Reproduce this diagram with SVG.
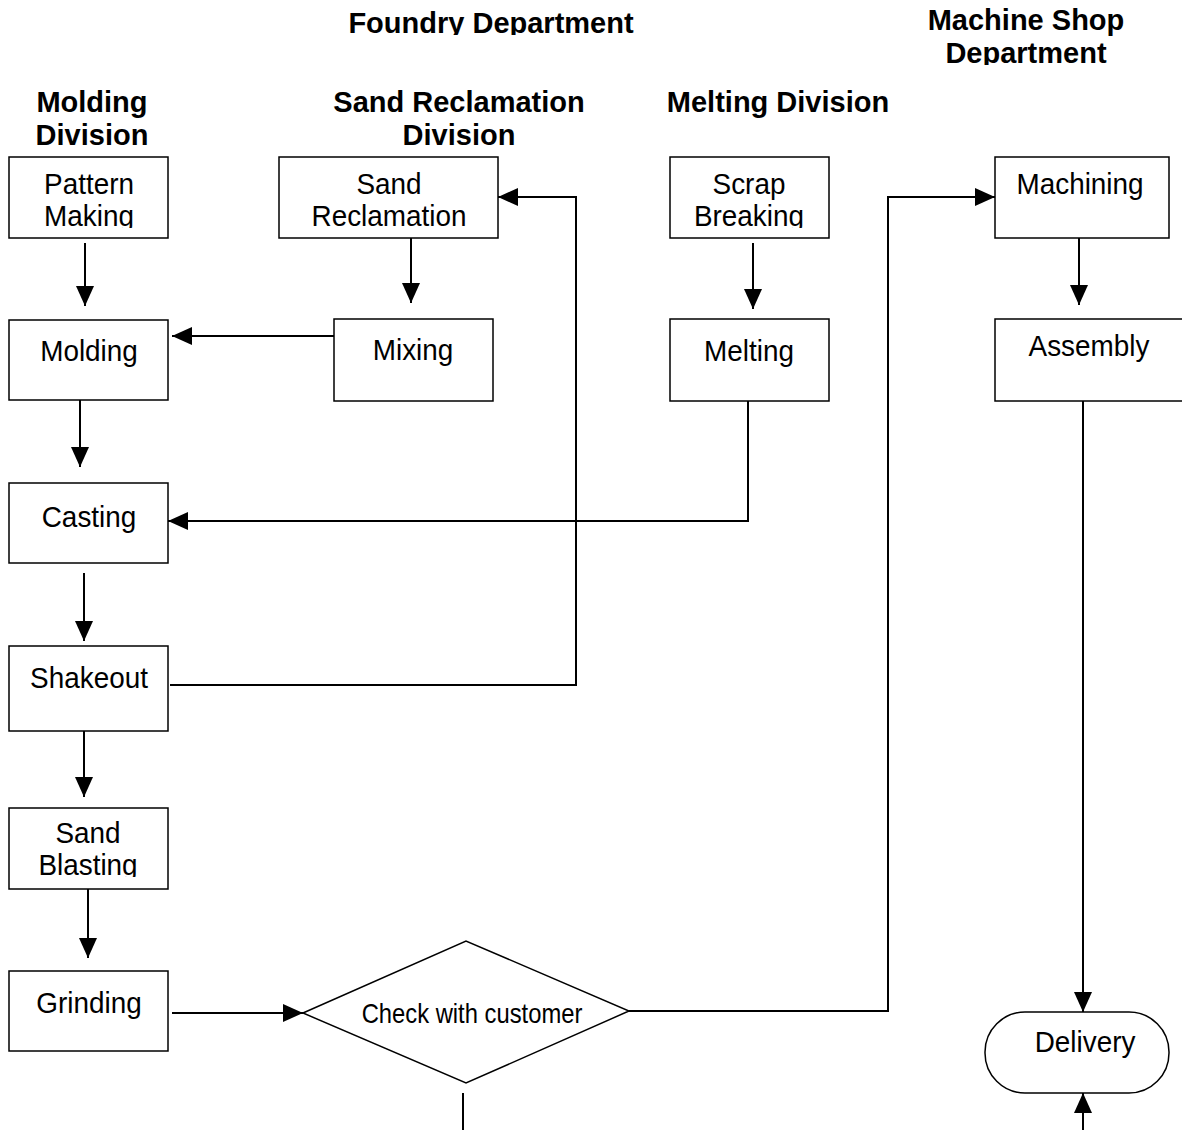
<svg xmlns="http://www.w3.org/2000/svg" width="1182" height="1130" viewBox="0 0 1182 1130">
<defs>
<style>
.box{fill:#fff;stroke:#000;stroke-width:1.5}
.t{font-family:"Liberation Sans",Arial,sans-serif;font-size:30px;text-anchor:middle;fill:#000}
.h{font-family:"Liberation Sans",Arial,sans-serif;font-size:29px;font-weight:bold;text-anchor:middle;fill:#000}
.c{fill:none;stroke:#000;stroke-width:2}
</style>
<marker id="ah" markerWidth="20" markerHeight="18" refX="20" refY="9" orient="auto" markerUnits="userSpaceOnUse"><path d="M0,0 L20,9 L0,18 z" fill="#000"/></marker>
<clipPath id="cFoundry"><rect x="300" y="0" width="400" height="35"/></clipPath>
<clipPath id="cDept"><rect x="900" y="35" width="250" height="30"/></clipPath>
<clipPath id="cLine2"><rect x="-150" y="-30" width="300" height="32"/></clipPath>
</defs>
<rect width="1182" height="1130" fill="#fff"/>

<g id="titles">
<text class="h" x="491" y="33" clip-path="url(#cFoundry)">Foundry Department</text>
<text class="h" x="1026" y="30">Machine Shop</text>
<text class="h" x="1026" y="63" clip-path="url(#cDept)">Department</text>
<text class="h" x="92" y="112">Molding</text>
<text class="h" x="92" y="145">Division</text>
<text class="h" x="459" y="112">Sand Reclamation</text>
<text class="h" x="459" y="145">Division</text>
<text class="h" x="778" y="112">Melting Division</text>
</g>

<g id="connectors">
<path class="c" d="M85,243 V306" marker-end="url(#ah)"/>
<path class="c" d="M411,238 V303" marker-end="url(#ah)"/>
<path class="c" d="M753,243 V309" marker-end="url(#ah)"/>
<path class="c" d="M1079,238 V305" marker-end="url(#ah)"/>
<path class="c" d="M334,336 H172" marker-end="url(#ah)"/>
<path class="c" d="M80,400 V467" marker-end="url(#ah)"/>
<path class="c" d="M748,401 V521 H168" marker-end="url(#ah)"/>
<path class="c" d="M84,573 V641" marker-end="url(#ah)"/>
<path class="c" d="M170,685 H576 V197 H498" marker-end="url(#ah)"/>
<path class="c" d="M84,731 V797" marker-end="url(#ah)"/>
<path class="c" d="M88,889 V958" marker-end="url(#ah)"/>
<path class="c" d="M172,1013 H303" marker-end="url(#ah)"/>
<path class="c" d="M629,1011 H888 V197 H995" marker-end="url(#ah)"/>
<path class="c" d="M1083,401 V1012" marker-end="url(#ah)"/>
<path class="c" d="M463,1093 V1130"/>
<path class="c" d="M1083,1130 V1093" marker-end="url(#ah)"/>
</g>

<g id="pattern-making">
<rect class="box" x="9" y="157" width="159" height="81"/>
<text class="t" transform="translate(89 194) scale(0.93 1)">Pattern</text>
<text class="t" transform="translate(89 226) scale(0.93 1)" clip-path="url(#cLine2)">Making</text>
</g>
<g id="sand-reclamation">
<rect class="box" x="279" y="157" width="219" height="81"/>
<text class="t" transform="translate(389 194) scale(0.93 1)">Sand</text>
<text class="t" transform="translate(389 226) scale(0.93 1)">Reclamation</text>
</g>
<g id="scrap-breaking">
<rect class="box" x="670" y="157" width="159" height="81"/>
<text class="t" transform="translate(749 194) scale(0.93 1)">Scrap</text>
<text class="t" transform="translate(749 226) scale(0.93 1)" clip-path="url(#cLine2)">Breaking</text>
</g>
<g id="machining">
<rect class="box" x="995" y="157" width="174" height="81"/>
<text class="t" transform="translate(1080 194) scale(0.93 1)">Machining</text>
</g>
<g id="molding">
<rect class="box" x="9" y="320" width="159" height="80"/>
<text class="t" transform="translate(89 361) scale(0.93 1)">Molding</text>
</g>
<g id="mixing">
<rect class="box" x="334" y="319" width="159" height="82"/>
<text class="t" transform="translate(413 360) scale(0.93 1)">Mixing</text>
</g>
<g id="melting">
<rect class="box" x="670" y="319" width="159" height="82"/>
<text class="t" transform="translate(749 361) scale(0.93 1)">Melting</text>
</g>
<g id="assembly">
<rect class="box" x="995" y="319" width="200" height="82"/>
<text class="t" transform="translate(1089 356) scale(0.93 1)">Assembly</text>
</g>
<g id="casting">
<rect class="box" x="9" y="483" width="159" height="80"/>
<text class="t" transform="translate(89 527) scale(0.93 1)">Casting</text>
</g>
<g id="shakeout">
<rect class="box" x="9" y="646" width="159" height="85"/>
<text class="t" transform="translate(89 688) scale(0.93 1)">Shakeout</text>
</g>
<g id="sand-blasting">
<rect class="box" x="9" y="808" width="159" height="81"/>
<text class="t" transform="translate(88 843) scale(0.93 1)">Sand</text>
<text class="t" transform="translate(88 875) scale(0.93 1)" clip-path="url(#cLine2)">Blasting</text>
</g>
<g id="grinding">
<rect class="box" x="9" y="971" width="159" height="80"/>
<text class="t" transform="translate(89 1013) scale(0.93 1)">Grinding</text>
</g>
<g id="check-with-customer">
<polygon class="box" points="303,1013 466,941 629,1011 466,1083"/>
<text class="t" style="font-size:28px" transform="translate(472 1023) scale(0.85 1)">Check with customer</text>
</g>
<g id="delivery">
<rect class="box" x="985" y="1012" width="184" height="81" rx="40" ry="40"/>
<text class="t" transform="translate(1085 1052) scale(0.93 1)">Delivery</text>
</g>
</svg>
